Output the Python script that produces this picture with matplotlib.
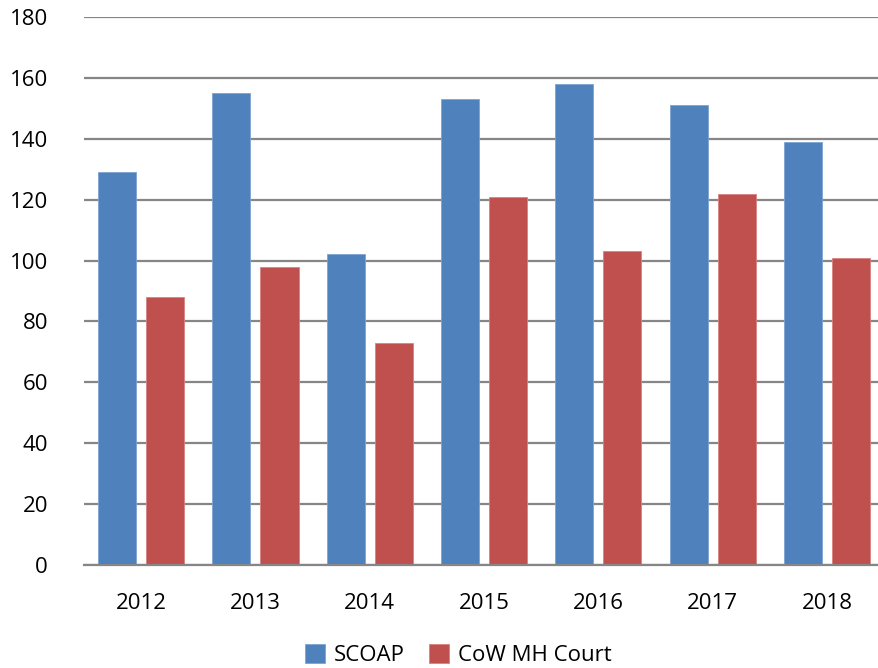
import numpy as np
import matplotlib
matplotlib.use('Agg')
from matplotlib import pyplot as plt

years = ['2012', '2013', '2014', '2015', '2016', '2017', '2018']
scoap = [129, 155, 102, 153, 158, 151, 139]
cow_mh_court = [88, 98, 73, 121, 103, 122, 101]
y_ticks = [0, 20, 40, 60, 80, 100, 120, 140, 160, 180]

plt.rcParams['font.family'] = ['Open Sans', 'DejaVu Sans']

fig = plt.figure(figsize=(8.79, 6.68), dpi=100)
ax = fig.add_axes([84 / 879, 103 / 668, 795 / 879, 548 / 668])

x = np.arange(len(years))
w = 0.333
gap = 0.088
ax.bar(x - (w + gap) / 2, scoap, w, color='#4F81BD', edgecolor='#7FA3D3', linewidth=0.6, label='SCOAP', zorder=3)
ax.bar(x + (w + gap) / 2, cow_mh_court, w, color='#C0504D', edgecolor='#D98280', linewidth=0.6, label='CoW MH Court', zorder=3)

ax.set_ylim(0, 180)
ax.set_xlim(-0.5, -0.5 + 795 / 114.3)
ax.set_yticks(y_ticks)
ax.set_xticks(x)
ax.set_xticklabels(years)
ax.yaxis.grid(True, color='#868686', linewidth=1.6, zorder=0)
for s in ['top', 'right', 'left']:
    ax.spines[s].set_visible(False)
ax.spines['bottom'].set_color('#868686')
ax.spines['bottom'].set_linewidth(1.6)
ax.spines['bottom'].set_zorder(4)
ax.tick_params(axis='both', length=0, labelsize=16, colors='black')
ax.tick_params(axis='x', pad=20)
ax.tick_params(axis='y', pad=26)

leg = fig.legend(loc='center', bbox_to_anchor=(458 / 879, 1 - 655 / 668), ncol=2, frameon=False,
                 fontsize=16, handlelength=0.9, handleheight=0.9, handletextpad=0.4, columnspacing=1.1)

fig.savefig('out.png', dpi=100)
